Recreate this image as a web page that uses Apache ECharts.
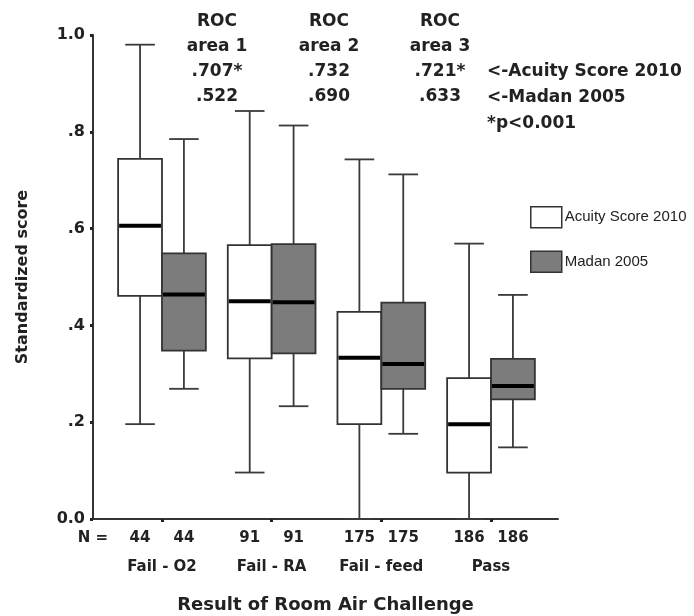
<!DOCTYPE html>
<html>
<head>
<meta charset="utf-8">
<script src="https://cdn.jsdelivr.net/npm/echarts@6/dist/echarts.min.js"></script>
<style>
  html, body { margin: 0; padding: 0; background: #fff; }
  #chart { width: 694px; height: 616px; }
</style>
</head>
<body>
<div id="chart"></div>
<script>
// groups on the x axis
var categories = ['Fail - O2', 'Fail - RA', 'Fail - feed', 'Pass']
var nCounts = [44, 91, 175, 186]
// box stats per group: [min, Q1, median, Q3, max]
var acuityStats = [
  [0.196, 0.461, 0.606, 0.744, 0.980],
  [0.096, 0.332, 0.450, 0.566, 0.843],
  [0.000, 0.196, 0.333, 0.428, 0.743],
  [0.000, 0.096, 0.196, 0.291, 0.569]
]
var madanStats = [
  [0.269, 0.348, 0.464, 0.549, 0.785],
  [0.233, 0.342, 0.448, 0.568, 0.813],
  [0.176, 0.269, 0.320, 0.447, 0.712],
  [0.148, 0.247, 0.275, 0.331, 0.463]
]
var yTicks = [0, 0.2, 0.4, 0.6, 0.8, 1.0]
var yTickLabels = ['0.0', '.2', '.4', '.6', '.8', '1.0']
var rocLabels = [
  'ROC\narea 1\n.707*\n.522',
  'ROC\narea 2\n.732\n.690',
  'ROC\narea 3\n.721*\n.633'
]

var BOX_W = 0.4
var CAP_W = 0.27
var X_MIN = 0.371
var X_MAX = 4.611
var BOLD = 'DejaVu Sans'

function toRows(stats) {
  return stats.map(function (s, i) { return [i + 1].concat(s) })
}

function renderBox(offset, fill) {
  return function (params, api) {
    var x = api.value(0) + offset
    var pMin = api.coord([x, api.value(1)])
    var pQ1 = api.coord([x, api.value(2)])
    var pMed = api.coord([x, api.value(3)])
    var pQ3 = api.coord([x, api.value(4)])
    var pMax = api.coord([x, api.value(5)])
    var w = api.size([BOX_W, 0])[0]
    var cap = api.size([CAP_W, 0])[0]
    var line = { stroke: '#3a3a3a', lineWidth: 1.8 }
    return {
      type: 'group',
      children: [
        { type: 'line', shape: { x1: pMax[0], y1: pMax[1], x2: pQ3[0], y2: pQ3[1] }, style: line },
        { type: 'line', shape: { x1: pMax[0] - cap / 2, y1: pMax[1], x2: pMax[0] + cap / 2, y2: pMax[1] }, style: line },
        { type: 'line', shape: { x1: pQ1[0], y1: pQ1[1], x2: pMin[0], y2: pMin[1] }, style: line },
        { type: 'line', shape: { x1: pMin[0] - cap / 2, y1: pMin[1], x2: pMin[0] + cap / 2, y2: pMin[1] }, style: line },
        {
          type: 'rect',
          shape: { x: pQ3[0] - w / 2, y: pQ3[1], width: w, height: pQ1[1] - pQ3[1] },
          style: { fill: fill, stroke: '#333', lineWidth: 1.8 }
        },
        { type: 'line', shape: { x1: pMed[0] - w / 2 + 1, y1: pMed[1], x2: pMed[0] + w / 2 - 1, y2: pMed[1] }, style: { stroke: '#000', lineWidth: 4 } }
      ]
    }
  }
}

// N labels sit under each box, category names under each pair
var nValues = [X_MIN]
var nText = { }
nText[Math.round(X_MIN * 100)] = 'N ='
nCounts.forEach(function (n, i) {
  var a = i + 1 - BOX_W / 2, b = i + 1 + BOX_W / 2
  nValues.push(a, b)
  nText[Math.round(a * 100)] = String(n)
  nText[Math.round(b * 100)] = String(n)
})
var catValues = categories.map(function (c, i) { return i + 1 })

var rocText = function (txt, x) {
  return {
    type: 'text', x: x, y: 9,
    style: { text: txt, textAlign: 'center', lineHeight: 25, font: 'bold 17px "DejaVu Sans"', fill: '#222' }
  }
}

var chart = echarts.init(document.getElementById('chart'))
chart.setOption({
  backgroundColor: '#fff',
  animation: false,
  grid: { left: 93, right: 136, top: 35, bottom: 97, outerBoundsMode: 'none', containLabel: false },
  legend: {
    orient: 'vertical',
    left: 525,
    top: 201,
    itemWidth: 31,
    itemHeight: 21,
    itemGap: 22,
    selectedMode: false,
    textStyle: { fontFamily: 'Liberation Sans', fontSize: 15, color: '#222', padding: [0, 0, 0, -2] },
    data: [
      { name: 'Acuity Score 2010', icon: 'rect', itemStyle: { color: '#fff', borderColor: '#333', borderWidth: 1.5 } },
      { name: 'Madan 2005', icon: 'rect', itemStyle: { color: '#7c7c7c', borderColor: '#333', borderWidth: 1.5 } }
    ]
  },
  xAxis: [
    {
      type: 'value',
      min: X_MIN,
      max: X_MAX,
      splitLine: { show: false },
      axisLine: { show: true, onZero: false, lineStyle: { color: '#333', width: 2 } },
      axisTick: { show: true, customValues: catValues, length: 3, lineStyle: { color: '#222', width: 3 } },
      axisLabel: {
        customValues: nValues,
        margin: 12,
        fontFamily: BOLD, fontWeight: 'bold', fontSize: 15, color: '#222',
        formatter: function (v) { return nText[Math.round(v * 100)] || '' }
      }
    },
    {
      type: 'value',
      position: 'bottom',
      min: X_MIN,
      max: X_MAX,
      splitLine: { show: false },
      axisLine: { show: false },
      axisTick: { show: false },
      axisLabel: {
        customValues: catValues,
        margin: 41,
        fontFamily: BOLD, fontWeight: 'bold', fontSize: 15, color: '#222',
        formatter: function (v) { return categories[Math.round(v) - 1] || '' }
      },
      name: 'Result of Room Air Challenge',
      nameLocation: 'middle',
      nameGap: 77,
      nameTextStyle: { fontFamily: BOLD, fontWeight: 'bold', fontSize: 18, color: '#222' }
    }
  ],
  yAxis: {
    type: 'value',
    min: 0,
    max: 1,
    interval: 0.2,
    splitLine: { show: false },
    axisLine: { show: true, lineStyle: { color: '#333', width: 2 } },
    axisTick: { show: true, length: 3, lineStyle: { color: '#222', width: 3 } },
    axisLabel: {
      margin: 8,
      fontFamily: BOLD, fontWeight: 'bold', fontSize: 16, color: '#222',
      formatter: function (v) {
        var i = yTicks.findIndex(function (t) { return Math.abs(t - v) < 1e-6 })
        return i >= 0 ? yTickLabels[i] : ''
      }
    },
    name: 'Standardized score',
    nameLocation: 'middle',
    nameGap: 62,
    nameTextStyle: { fontFamily: BOLD, fontWeight: 'bold', fontSize: 16, color: '#222' }
  },
  series: [
    {
      name: 'Acuity Score 2010',
      type: 'custom',
      clip: false,
      itemStyle: { color: '#fff', borderColor: '#333' },
      renderItem: renderBox(-BOX_W / 2, '#fff'),
      data: toRows(acuityStats)
    },
    {
      name: 'Madan 2005',
      type: 'custom',
      clip: false,
      itemStyle: { color: '#7c7c7c', borderColor: '#333' },
      renderItem: renderBox(BOX_W / 2, '#7c7c7c'),
      data: toRows(madanStats)
    }
  ],
  graphic: [
    rocText(rocLabels[0], 217),
    rocText(rocLabels[1], 329),
    rocText(rocLabels[2], 440),
    { type: 'text', x: 487, y: 59, style: { text: '<-Acuity Score 2010\n<-Madan 2005\n*p<0.001', lineHeight: 26, font: 'bold 17px "DejaVu Sans"', fill: '#222' } }
  ]
})
</script>
</body>
</html>
